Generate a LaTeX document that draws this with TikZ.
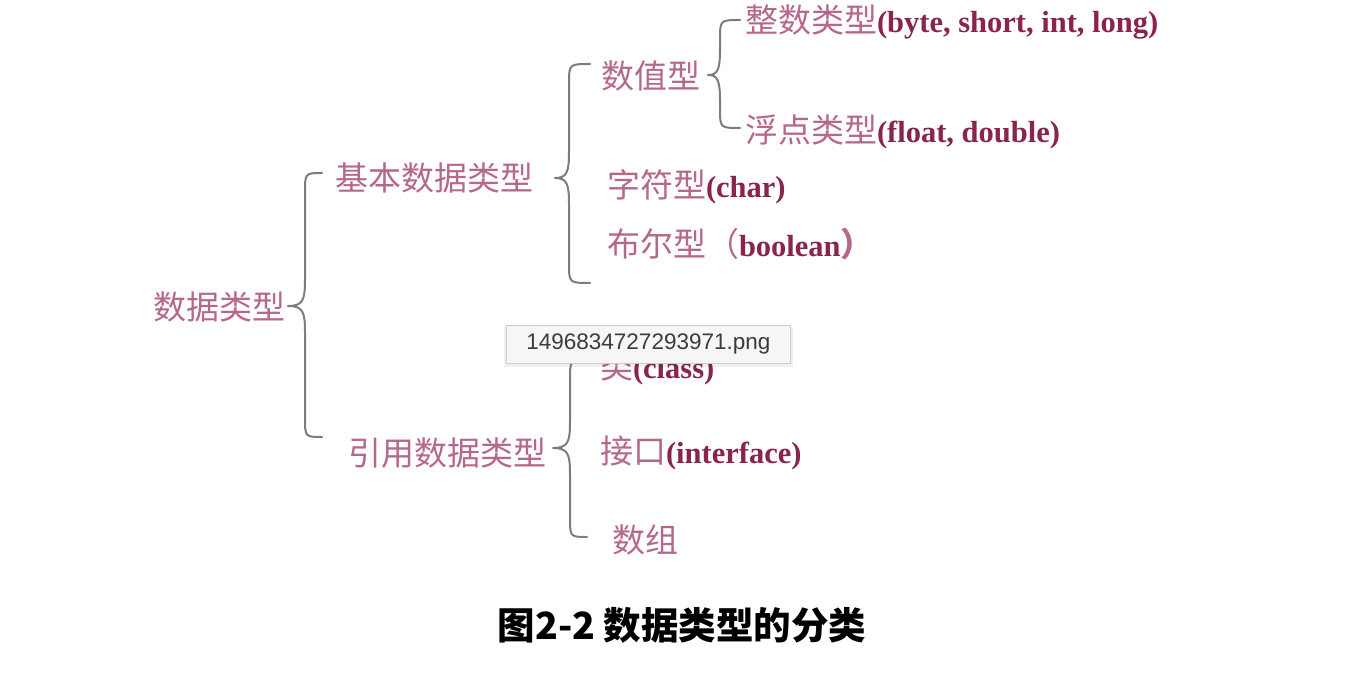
\documentclass[tikz,border=0pt]{standalone}
\usepackage{fontspec}
\setmainfont{Liberation Serif}
\newfontfamily\cjkfont{Noto Sans CJK SC}
\newfontfamily\tipfont{Liberation Sans}
\definecolor{cjkc}{RGB}{182,104,140}
\definecolor{latc}{RGB}{136,36,78}
\definecolor{bracec}{RGB}{125,125,125}
\definecolor{tipfill}{RGB}{246,246,246}
\definecolor{tipline}{RGB}{205,205,205}
\definecolor{tiptext}{RGB}{60,60,60}
\newcommand\cj{\cjkfont\color{cjkc}\fontsize{33}{38}\selectfont}
\newcommand\lt{\rmfamily\bfseries\color{latc}\fontsize{30.5}{38}\selectfont}
\begin{document}
\begin{tikzpicture}[x=1pt,y=-1pt,
  txt/.style={anchor=west,inner sep=0pt,outer sep=0pt},
  bracepath/.style={draw=bracec,line width=2pt,line cap=round,line join=round}]
\useasboundingbox[fill=white] (0,0) rectangle (1356,684);
\newcommand\mybrace[6]{% xe, xl, xt, yt, ym, yb
  \draw[bracepath] (#1,#4) .. controls (#2,#4) and (#2,#4) .. (#2,#4+20) -- (#2,#5-26)
    .. controls (#2,#5-6) and (#2-2,#5) .. (#3,#5) .. controls (#2-2,#5) and (#2,#5+6) .. (#2,#5+26)
    -- (#2,#6-20) .. controls (#2,#6) and (#2,#6) .. (#1,#6);}
% texts
\node[txt] (root) at (153,307) {\cj 数据类型};
\node[txt] (basic) at (335,178) {\cj 基本数据类型};
\node[txt] (ref) at (348,453) {\cj 引用数据类型};
\node[txt] (num) at (601,76) {\cj 数值型};
\node[txt] (int) at (745,22) {\cj 整数类型\lt(byte, short, int, long)};
\node[txt] (flt) at (745,132) {\cj 浮点类型\lt(float, double)};
\node[txt] (chr) at (607,187) {\cj 字符型\lt(char)};
\node[txt] (bool) at (607,244) {\cj 布尔型（\lt boolean\cj ）};
\node[txt] (cls) at (600,368) {\cj 类\lt(class)};
\node[txt] (ifc) at (600,453) {\cj 接口\lt(interface)};
\node[txt] (arr) at (612,540) {\cj 数组};
% braces
\mybrace{322}{305}{288}{173}{306}{437}
\mybrace{590}{569}{555}{64}{178}{283}
\mybrace{740}{720}{708}{20}{75}{128}
\mybrace{587}{570}{553}{360}{448}{537}
% caption
\node[inner sep=0pt] (cap) at (682,625) {\cjkfont\bfseries\fontsize{37.5}{42}\selectfont 图2-2 数据类型的分类};
% tooltip overlay
\fill[black,opacity=0.06] (504,327) rectangle (793,367);
\node[draw=tipline,fill=tipfill,line width=0.8pt,minimum width=284pt,minimum height=38pt,inner sep=0pt,anchor=north west] (tip) at (506,325)
  {\tipfont\color{tiptext}\fontsize{22.5}{26}\selectfont 1496834727293971.png};
\end{tikzpicture}
\end{document}
